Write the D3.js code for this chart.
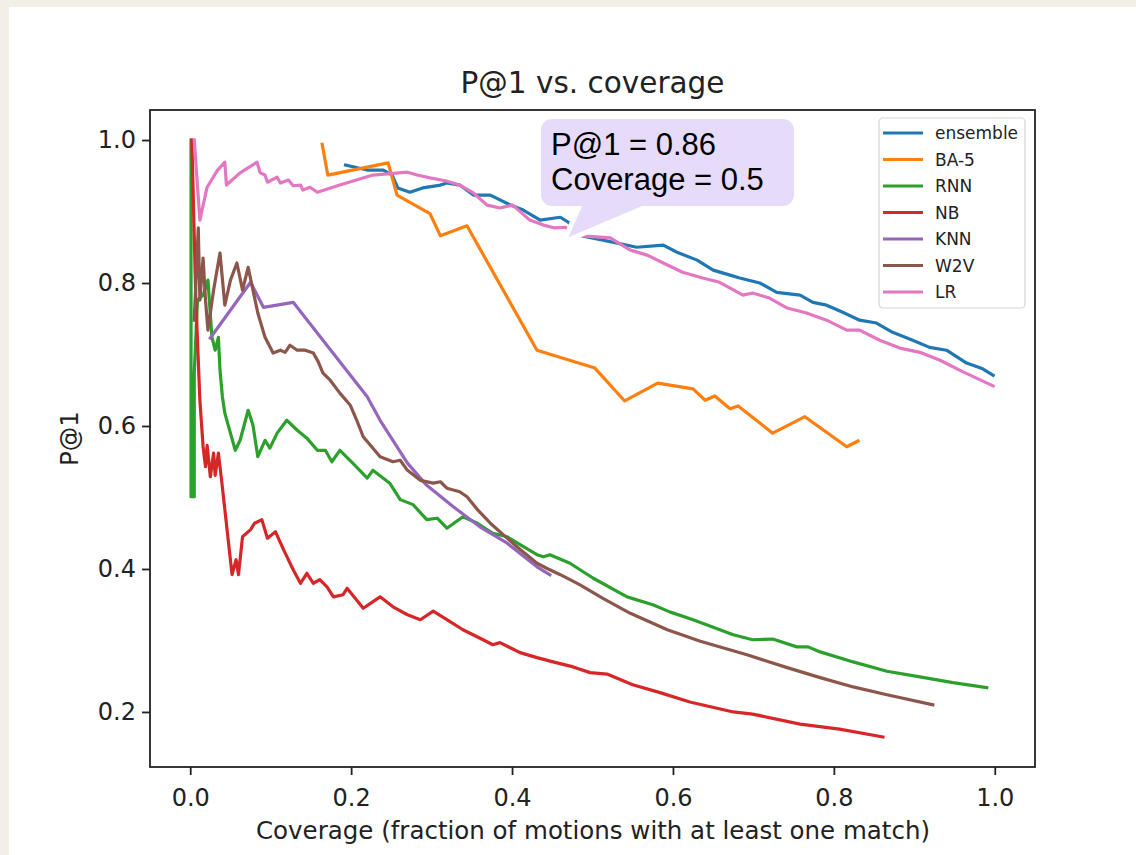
<!DOCTYPE html>
<html lang="en">
<head>
<meta charset="UTF-8">
<title>P@1 vs. coverage</title>
<script src="https://d3js.org/d3.v7.min.js"></script>
<style>
  body { margin: 0; background: #f3efe6; }
  svg { display: block; }
  .tick text { font-family: "DejaVu Sans", sans-serif; font-size: 24px; fill: #222; }
  .tick line { stroke: #222; }
  .domain { display: none; }
</style>
</head>
<body>
<div id="chart"></div>
<script>
// series: [coverage, P@1] pairs
const ensemble = [[0.193,0.965],[0.220,0.958],[0.240,0.958],[0.251,0.951],[0.258,0.933],[0.273,0.927],[0.289,0.933],[0.311,0.937],[0.319,0.940],[0.335,0.937],[0.352,0.923],[0.373,0.923],[0.398,0.909],[0.414,0.902],[0.435,0.888],[0.460,0.892],[0.470,0.885],[0.487,0.866],[0.513,0.860],[0.555,0.850],[0.588,0.853],[0.605,0.843],[0.630,0.832],[0.650,0.818],[0.671,0.811],[0.683,0.807],[0.708,0.800],[0.729,0.787],[0.758,0.783],[0.774,0.773],[0.791,0.769],[0.811,0.759],[0.832,0.748],[0.853,0.744],[0.873,0.731],[0.898,0.720],[0.919,0.710],[0.940,0.706],[0.965,0.688],[0.985,0.680],[0.998,0.671]];
const ba5 = [[0.164,0.994],[0.171,0.951],[0.246,0.968],[0.257,0.923],[0.298,0.897],[0.311,0.866],[0.344,0.880],[0.431,0.706],[0.503,0.681],[0.540,0.635],[0.581,0.660],[0.625,0.652],[0.640,0.636],[0.652,0.642],[0.671,0.624],[0.681,0.628],[0.724,0.590],[0.764,0.613],[0.816,0.571],[0.830,0.579]];
const rnn = [[0.001,1.0],[0.001,0.501],[0.005,0.501],[0.005,0.674],[0.009,0.776],[0.016,0.783],[0.022,0.804],[0.027,0.724],[0.031,0.706],[0.035,0.724],[0.037,0.678],[0.040,0.641],[0.043,0.618],[0.050,0.590],[0.056,0.566],[0.062,0.580],[0.072,0.622],[0.078,0.601],[0.084,0.557],[0.093,0.580],[0.099,0.569],[0.108,0.590],[0.120,0.608],[0.133,0.594],[0.145,0.583],[0.158,0.566],[0.168,0.566],[0.176,0.550],[0.186,0.566],[0.202,0.548],[0.220,0.527],[0.227,0.538],[0.248,0.520],[0.261,0.497],[0.277,0.490],[0.294,0.469],[0.307,0.471],[0.319,0.457],[0.339,0.473],[0.357,0.464],[0.376,0.450],[0.394,0.445],[0.410,0.434],[0.431,0.420],[0.439,0.417],[0.447,0.420],[0.472,0.408],[0.501,0.387],[0.543,0.361],[0.575,0.350],[0.596,0.340],[0.625,0.329],[0.675,0.308],[0.699,0.301],[0.724,0.302],[0.754,0.291],[0.768,0.291],[0.783,0.284],[0.824,0.270],[0.866,0.257],[0.907,0.249],[0.948,0.241],[0.990,0.234]];
const nb = [[0.002,1.0],[0.007,0.776],[0.012,0.636],[0.016,0.571],[0.019,0.543],[0.021,0.573],[0.025,0.529],[0.029,0.562],[0.031,0.531],[0.035,0.562],[0.039,0.524],[0.052,0.392],[0.057,0.413],[0.060,0.392],[0.065,0.445],[0.075,0.455],[0.080,0.464],[0.089,0.469],[0.096,0.443],[0.106,0.452],[0.116,0.427],[0.128,0.399],[0.137,0.380],[0.145,0.394],[0.153,0.380],[0.161,0.385],[0.170,0.375],[0.178,0.361],[0.190,0.364],[0.195,0.373],[0.215,0.345],[0.236,0.361],[0.252,0.347],[0.270,0.336],[0.286,0.329],[0.302,0.341],[0.319,0.329],[0.339,0.315],[0.364,0.301],[0.376,0.294],[0.385,0.297],[0.410,0.283],[0.431,0.276],[0.451,0.270],[0.476,0.263],[0.497,0.255],[0.518,0.253],[0.550,0.238],[0.584,0.227],[0.621,0.214],[0.675,0.200],[0.699,0.197],[0.758,0.183],[0.807,0.176],[0.861,0.165]];
const knn = [[0.025,0.723],[0.075,0.801],[0.091,0.766],[0.128,0.773],[0.220,0.641],[0.236,0.608],[0.270,0.548],[0.294,0.517],[0.327,0.487],[0.360,0.459],[0.394,0.436],[0.431,0.403],[0.447,0.392]];
const w2v = [[0.005,0.748],[0.010,0.877],[0.012,0.776],[0.016,0.835],[0.019,0.776],[0.022,0.734],[0.029,0.790],[0.037,0.842],[0.043,0.769],[0.050,0.804],[0.058,0.828],[0.065,0.790],[0.072,0.822],[0.078,0.790],[0.084,0.758],[0.093,0.724],[0.103,0.702],[0.112,0.706],[0.118,0.703],[0.124,0.713],[0.133,0.706],[0.143,0.706],[0.153,0.702],[0.159,0.690],[0.165,0.674],[0.174,0.664],[0.186,0.646],[0.199,0.629],[0.207,0.608],[0.215,0.585],[0.224,0.573],[0.236,0.557],[0.252,0.550],[0.261,0.552],[0.270,0.538],[0.286,0.524],[0.302,0.520],[0.311,0.522],[0.319,0.513],[0.335,0.508],[0.344,0.501],[0.357,0.483],[0.373,0.464],[0.389,0.448],[0.406,0.431],[0.431,0.408],[0.443,0.401],[0.460,0.392],[0.484,0.378],[0.513,0.359],[0.547,0.338],[0.593,0.315],[0.634,0.299],[0.692,0.280],[0.742,0.262],[0.783,0.248],[0.824,0.235],[0.866,0.224],[0.923,0.210]];
const lr = [[0.005,1.0],[0.012,0.888],[0.021,0.934],[0.034,0.958],[0.043,0.969],[0.045,0.937],[0.062,0.954],[0.083,0.969],[0.087,0.954],[0.093,0.951],[0.096,0.941],[0.108,0.948],[0.112,0.940],[0.122,0.944],[0.128,0.936],[0.137,0.937],[0.140,0.930],[0.149,0.934],[0.158,0.927],[0.186,0.937],[0.227,0.951],[0.270,0.955],[0.282,0.951],[0.298,0.947],[0.317,0.943],[0.335,0.937],[0.352,0.926],[0.369,0.909],[0.385,0.905],[0.401,0.909],[0.422,0.888],[0.439,0.881],[0.453,0.877],[0.466,0.878],[0.487,0.866],[0.522,0.863],[0.547,0.846],[0.568,0.839],[0.588,0.828],[0.612,0.815],[0.637,0.807],[0.658,0.801],[0.687,0.783],[0.699,0.786],[0.720,0.779],[0.742,0.765],[0.766,0.758],[0.791,0.748],[0.816,0.734],[0.832,0.734],[0.857,0.720],[0.882,0.709],[0.907,0.703],[0.932,0.692],[0.960,0.676],[0.998,0.656]];

const names = ["ensemble", "BA-5", "RNN", "NB", "KNN", "W2V", "LR"];
const colors = ["#1f77b4", "#ff7f0e", "#2ca02c", "#d62728", "#9467bd", "#8c564b", "#e377c2"];
const seriesData = [ensemble, ba5, rnn, nb, knn, w2v, lr];
const xTicks = [0.0, 0.2, 0.4, 0.6, 0.8, 1.0];
const yTicks = [0.2, 0.4, 0.6, 0.8, 1.0];
const calloutLines = ["P@1 = 0.86", "Coverage = 0.5"];
const calloutTip = [0.47, 0.864];

const width = 1136, height = 855;
const plotLeft = 150, plotRight = 1035, plotTop = 110, plotBottom = 767;

const svg = d3.select("#chart").append("svg")
  .attr("width", width)
  .attr("height", height);

// white panel on the beige page
svg.append("rect")
  .attr("x", 9).attr("y", 7)
  .attr("width", width).attr("height", height)
  .attr("fill", "#fff");

const x = d3.scaleLinear().domain([-0.05, 1.05]).range([plotLeft, plotRight]);
const y = d3.scaleLinear().domain([0.123, 1.042]).range([plotBottom, plotTop]);

svg.append("defs").append("clipPath").attr("id", "plot")
  .append("rect")
  .attr("x", plotLeft).attr("y", plotTop)
  .attr("width", plotRight - plotLeft).attr("height", plotBottom - plotTop);

const line = d3.line().x(d => x(d[0])).y(d => y(d[1]));

svg.append("g").attr("clip-path", "url(#plot)")
  .selectAll("path")
  .data(seriesData)
  .join("path")
  .attr("d", line)
  .attr("fill", "none")
  .attr("stroke", (d, i) => colors[i])
  .attr("stroke-width", 3.2)
  .attr("stroke-linejoin", "round")
  .attr("stroke-linecap", "square");

// axes
svg.append("g")
  .attr("transform", `translate(0,${plotBottom})`)
  .call(d3.axisBottom(x).tickValues(xTicks).tickFormat(d3.format(".1f")).tickSize(8).tickPadding(14));

svg.append("g")
  .attr("transform", `translate(${plotLeft},0)`)
  .call(d3.axisLeft(y).tickValues(yTicks).tickFormat(d3.format(".1f")).tickSize(8).tickPadding(6));

svg.selectAll(".tick line").attr("stroke-width", 1.8);

svg.append("rect")
  .attr("x", plotLeft).attr("y", plotTop)
  .attr("width", plotRight - plotLeft).attr("height", plotBottom - plotTop)
  .attr("fill", "none")
  .attr("stroke", "#222")
  .attr("stroke-width", 1.8);

// title and labels
svg.append("text")
  .attr("x", (plotLeft + plotRight) / 2).attr("y", 93)
  .attr("text-anchor", "middle")
  .attr("font-family", "DejaVu Sans, sans-serif")
  .attr("font-size", 29.5)
  .attr("fill", "#222")
  .text("P@1 vs. coverage");

svg.append("text")
  .attr("x", (plotLeft + plotRight) / 2 + 0.5).attr("y", 839)
  .attr("text-anchor", "middle")
  .attr("font-family", "DejaVu Sans, sans-serif")
  .attr("font-size", 24.5)
  .attr("fill", "#222")
  .text("Coverage (fraction of motions with at least one match)");

svg.append("text")
  .attr("transform", `translate(78,${(plotTop + plotBottom) / 2}) rotate(-90)`)
  .attr("text-anchor", "middle")
  .attr("font-family", "DejaVu Sans, sans-serif")
  .attr("font-size", 24.5)
  .attr("fill", "#222")
  .text("P@1");

// legend
const legend = svg.append("g").attr("transform", "translate(879,118)");
legend.append("rect")
  .attr("width", 146).attr("height", 190)
  .attr("rx", 4)
  .attr("fill", "#fff")
  .attr("fill-opacity", 0.8)
  .attr("stroke", "#d6d6d6")
  .attr("stroke-width", 1.2);

const item = legend.selectAll("g.item")
  .data(names)
  .join("g")
  .attr("class", "item")
  .attr("transform", (d, i) => `translate(0,${15 + i * 26.5})`);

item.append("line")
  .attr("x1", 4).attr("x2", 44)
  .attr("stroke", (d, i) => colors[i])
  .attr("stroke-width", 3.2);

item.append("text")
  .attr("x", 56).attr("y", 6)
  .attr("font-family", "DejaVu Sans, sans-serif")
  .attr("font-size", 17)
  .attr("fill", "#222")
  .text(d => d);

// callout with a white halo, as in the reference
const tipX = x(calloutTip[0]), tipY = y(calloutTip[1]);
const box = { x: 541, y: 119, w: 253, h: 87 };
const pointer = `M${box.x + 42},${box.y + box.h - 2} L${tipX},${tipY} L${box.x + 106},${box.y + box.h - 2} Z`;
const callout = svg.append("g");
callout.append("path")
  .attr("d", pointer)
  .attr("fill", "#fff")
  .attr("stroke", "#fff")
  .attr("stroke-width", 10)
  .attr("stroke-linejoin", "round");
callout.append("path")
  .attr("d", pointer)
  .attr("fill", "#e6dcfa");
callout.append("rect")
  .attr("x", box.x).attr("y", box.y)
  .attr("width", box.w).attr("height", box.h)
  .attr("rx", 11)
  .attr("fill", "#e6dcfa");
callout.selectAll("text")
  .data(calloutLines)
  .join("text")
  .attr("x", box.x + 10)
  .attr("y", (d, i) => box.y + 36 + i * 35)
  .attr("font-family", "Liberation Sans, Arial, sans-serif")
  .attr("font-size", 31)
  .attr("fill", "#000")
  .text(d => d);
</script>
</body>
</html>
